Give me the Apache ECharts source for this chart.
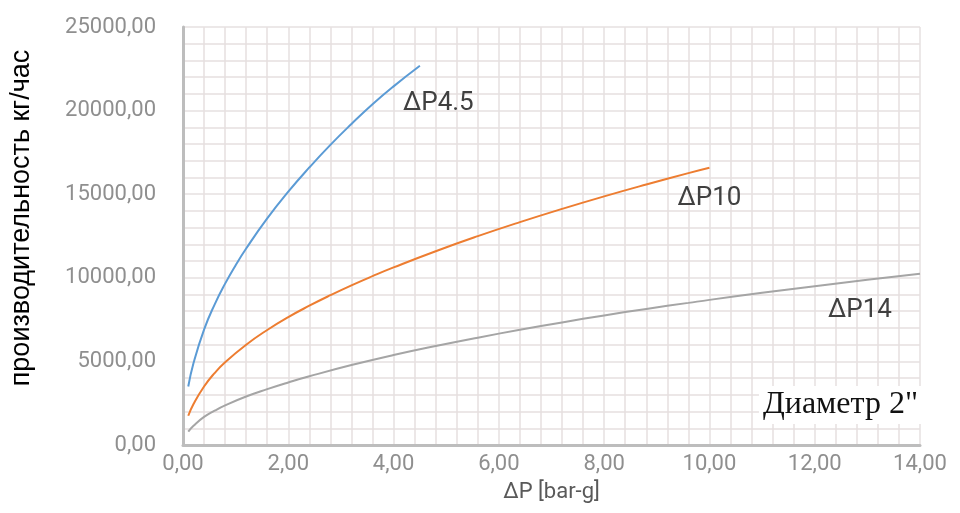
<!DOCTYPE html>
<html>
<head>
<meta charset="utf-8">
<script src="https://cdn.jsdelivr.net/npm/echarts@6/dist/echarts.min.js"></script>
<style>
  html, body { margin: 0; padding: 0; background: #fff; }
  #main { width: 960px; height: 513px; }
</style>
</head>
<body>
<div id="main"></div>
<script>
// ΔP4.5
const blueX = [0.1, 0.2, 0.4, 0.6, 0.8, 1.0, 1.2, 1.6, 2.0, 2.4, 2.8, 3.2, 3.6, 4.0, 4.5]
const blueY = [3500, 4900, 6900, 8400, 9650, 10750, 11750, 13550, 15150, 16600, 17950, 19200, 20380, 21450, 22680]
// ΔP10
const orangeX = [0.1, 0.2, 0.4, 0.6, 0.8, 1.2, 1.6, 2.0, 2.4, 2.8, 3.2, 3.6, 4.0, 4.8, 5.6, 6.4, 7.2, 8.0, 8.8, 9.6, 10.0]
const orangeY = [1750, 2450, 3500, 4300, 4950, 6000, 6880, 7650, 8330, 8960, 9550, 10100, 10620, 11590, 12490, 13330, 14120, 14870, 15580, 16260, 16580]
// ΔP14
const greyX = [0.1, 0.2, 0.4, 0.6, 0.8, 1.2, 1.6, 2.0, 2.4, 3.2, 4.0, 4.8, 5.6, 6.4, 7.2, 8.0, 8.8, 9.6, 10, 11, 12, 13, 14]
const greyY = [800, 1150, 1680, 2050, 2370, 2900, 3340, 3740, 4110, 4780, 5380, 5920, 6420, 6890, 7330, 7750, 8140, 8500, 8680, 9100, 9500, 9880, 10240]

const seriesNames = ['ΔP4.5', 'ΔP10', 'ΔP14']

const zip = (xs, ys) => xs.map((x, i) => [x, ys[i]])
const fmt = v => v.toFixed(2).replace('.', ',')

const gridColor = '#e6e0e0'
const labelFont = { color: '#8f8f8f', fontSize: 22, fontFamily: 'Roboto' }

// подписи кривых
const curveLabel = (offset) => ({
    show: true,
    formatter: '{a}',
    align: 'left',
    verticalAlign: 'middle',
    distance: 0,
    offset: offset,
    color: '#404040',
    fontSize: 26,
    fontFamily: 'Roboto'
})

const chart = echarts.init(document.getElementById('main'))
chart.setOption({
    animation: false,
    grid: { left: 183, right: 40, top: 27, bottom: 68 },
    xAxis: {
        type: 'value',
        min: 0, max: 14, interval: 2,
        name: 'ΔP [bar-g]',
        nameLocation: 'middle',
        nameGap: 36,
        nameTextStyle: { color: '#595959', fontSize: 22, fontFamily: 'Roboto' },
        axisLine: { show: true, onZero: false, lineStyle: { color: '#bdbdbd', width: 3 } },
        axisTick: { show: false },
        axisLabel: Object.assign({ formatter: fmt, margin: 8 }, labelFont),
        splitLine: { show: true, lineStyle: { color: gridColor, width: 1.5 } },
        minorTick: { show: false, splitNumber: 5 },
        minorSplitLine: { show: true, lineStyle: { color: gridColor, width: 1.5 } }
    },
    yAxis: {
        type: 'value',
        min: 0, max: 25000, interval: 5000,
        name: 'производительность кг/час',
        nameLocation: 'middle',
        nameGap: 148,
        nameTextStyle: { color: '#000', fontSize: 27, fontFamily: 'Liberation Sans', padding: [0, 0, 0, 36] },
        axisLine: { show: true, lineStyle: { color: '#bdbdbd', width: 3 } },
        axisTick: { show: false },
        axisLabel: Object.assign({ formatter: fmt, margin: 27 }, labelFont),
        splitLine: { show: true, lineStyle: { color: gridColor, width: 1.5 } },
        minorTick: { show: false, splitNumber: 5 },
        minorSplitLine: { show: true, lineStyle: { color: gridColor, width: 1.5 } }
    },
    graphic: [{
        type: 'text',
        right: 38,
        top: 386,
        z: 100,
        style: {
            text: 'Диаметр 2"',
            fill: '#111',
            fontFamily: 'Liberation Serif',
            fontSize: 32,
            fontStyle: 'normal',
            fontWeight: 'normal',
            backgroundColor: '#fff',
            padding: [3, 4, 3, 4]
        }
    }],
    series: [
        {
            name: seriesNames[0], type: 'line', smooth: 0.5, symbol: 'none',
            lineStyle: { color: '#5b9bd5', width: 2 },
            data: zip(blueX, blueY),
            endLabel: curveLabel([-17, 38])
        },
        {
            name: seriesNames[1], type: 'line', smooth: 0.5, symbol: 'none',
            lineStyle: { color: '#ed7d31', width: 2 },
            data: zip(orangeX, orangeY),
            endLabel: curveLabel([-32, 31])
        },
        {
            name: seriesNames[2], type: 'line', smooth: 0.5, symbol: 'none',
            lineStyle: { color: '#a5a5a5', width: 2 },
            data: zip(greyX, greyY),
            endLabel: curveLabel([-92, 37])
        }
    ]
})
</script>
</body>
</html>
